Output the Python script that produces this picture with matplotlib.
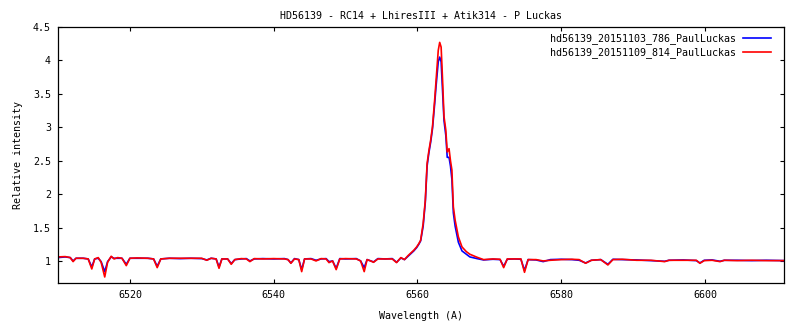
import matplotlib
matplotlib.use("Agg")
import matplotlib.pyplot as plt

# ---- data ----
wavelength = [
    6510.0, 6511.0, 6511.7, 6512.1, 6512.5, 6513.5, 6514.2, 6514.7, 6515.1, 6515.6,
    6516.0, 6516.5, 6516.9, 6517.4, 6517.8, 6518.3, 6518.9, 6519.5, 6520.0, 6521.0,
    6522.5, 6523.3, 6523.8, 6524.3, 6525.5, 6527.0, 6528.5, 6530.0, 6530.7, 6531.3,
    6532.0, 6532.4, 6532.8, 6533.6, 6534.1, 6534.6, 6535.5, 6536.2, 6536.7, 6537.3,
    6538.5, 6540.0, 6541.5, 6542.0, 6542.4, 6542.9, 6543.5, 6543.9, 6544.3, 6545.2,
    6545.9, 6546.6, 6547.3, 6547.7, 6548.2, 6548.7, 6549.2, 6550.0, 6551.5, 6552.1,
    6552.6, 6553.0, 6553.5, 6553.9, 6554.5, 6555.5, 6556.5, 6557.1, 6557.7, 6558.2,
    6558.7, 6559.1, 6559.5, 6559.9, 6560.2, 6560.45, 6560.8, 6561.1, 6561.35, 6561.6,
    6561.85, 6562.1, 6562.4, 6562.6, 6562.9, 6563.1, 6563.3, 6563.5, 6563.7, 6563.95,
    6564.15, 6564.4, 6564.6, 6564.8, 6565.0, 6565.25, 6565.7, 6566.2, 6566.8, 6567.3,
    6568.3, 6569.2, 6570.5, 6571.5, 6572.0, 6572.5, 6573.5, 6574.4, 6574.9, 6575.4,
    6576.5, 6577.5, 6578.5, 6580.0, 6581.5, 6582.5, 6583.4, 6584.2, 6585.5, 6586.5,
    6587.2, 6588.5, 6590.5, 6592.5, 6594.4, 6595.0, 6597.0, 6598.8, 6599.3, 6599.9,
    6601.0, 6602.1, 6602.7, 6604.5, 6606.5, 6608.5, 6611.0,
]

intensity_20151103 = [
    1.05, 1.06, 1.05, 1.00, 1.04, 1.04, 1.03, 0.91, 1.03, 1.04,
    0.99, 0.84, 0.99, 1.06, 1.04, 1.04, 1.04, 0.95, 1.04, 1.04,
    1.04, 1.03, 0.92, 1.03, 1.04, 1.035, 1.04, 1.035, 1.015, 1.04,
    1.03, 0.91, 1.03, 1.03, 0.96, 1.02, 1.03, 1.035, 1.00, 1.03,
    1.035, 1.03, 1.035, 1.02, 0.97, 1.035, 1.02, 0.87, 1.03, 1.035,
    1.01, 1.03, 1.035, 0.99, 1.00, 0.89, 1.035, 1.03, 1.035, 1.00,
    0.90, 1.02, 1.00, 0.985, 1.035, 1.03, 1.035, 0.98, 1.045, 1.02,
    1.07, 1.11, 1.15, 1.20, 1.25, 1.30, 1.52, 1.88, 2.42, 2.62,
    2.78, 2.98, 3.35, 3.62, 3.98, 4.05, 3.98, 3.55, 3.10, 2.88,
    2.55, 2.55, 2.42, 2.22, 1.72, 1.52, 1.28, 1.15, 1.10, 1.06,
    1.035, 1.015, 1.025, 1.02, 0.92, 1.025, 1.03, 1.025, 0.86, 1.02,
    1.015, 0.99, 1.02, 1.025, 1.02, 1.01, 0.97, 1.01, 1.02, 0.95,
    1.025, 1.02, 1.015, 1.005, 0.995, 1.01, 1.015, 1.005, 0.97, 1.01,
    1.015, 0.995, 1.01, 1.01, 1.005, 1.01, 1.005,
]

intensity_20151109 = [
    1.06, 1.065, 1.05, 0.99, 1.04, 1.04, 1.03, 0.88, 1.03, 1.05,
    0.98, 0.76, 0.98, 1.07, 1.03, 1.05, 1.04, 0.93, 1.04, 1.045,
    1.04, 1.03, 0.90, 1.03, 1.04, 1.04, 1.04, 1.04, 1.01, 1.04,
    1.03, 0.89, 1.03, 1.03, 0.95, 1.02, 1.035, 1.03, 0.99, 1.035,
    1.03, 1.035, 1.03, 1.02, 0.965, 1.03, 1.02, 0.84, 1.03, 1.03,
    1.00, 1.035, 1.03, 0.975, 1.00, 0.87, 1.03, 1.035, 1.03, 1.00,
    0.84, 1.02, 1.00, 0.98, 1.03, 1.03, 1.03, 0.975, 1.05, 1.02,
    1.08, 1.12, 1.16, 1.21, 1.26, 1.31, 1.56, 1.91, 2.46, 2.65,
    2.81, 3.01, 3.41, 3.71, 4.15, 4.27, 4.20, 3.71, 3.16, 2.96,
    2.63, 2.68, 2.50, 2.36, 1.81, 1.61, 1.36, 1.21, 1.14, 1.10,
    1.055, 1.02, 1.03, 1.025, 0.90, 1.03, 1.03, 1.03, 0.83, 1.02,
    1.02, 1.00, 1.01, 1.02, 1.025, 1.02, 0.965, 1.01, 1.02, 0.94,
    1.02, 1.025, 1.01, 1.01, 0.99, 1.01, 1.01, 1.01, 0.965, 1.005,
    1.01, 0.99, 1.01, 1.005, 1.01, 1.005, 1.005,
]

series_labels = ["hd56139_20151103_786_PaulLuckas", "hd56139_20151109_814_PaulLuckas"]
x_ticks = [6520, 6540, 6560, 6580, 6600]
y_ticks = [1, 1.5, 2, 2.5, 3, 3.5, 4, 4.5]
y_tick_labels = ["1", "1.5", "2", "2.5", "3", "3.5", "4", "4.5"]
title = "HD56139 - RC14 + LhiresIII + Atik314 - P Luckas"

# ---- plotting ----
FONT = "DejaVu Sans Mono"
FS = 7.2
plt.rcParams["font.family"] = [FONT]
plt.rcParams["font.size"] = FS

fig = plt.figure(figsize=(8.0, 3.25), dpi=100)
ax = fig.add_axes([58 / 800, (325 - 283) / 325, (784 - 58) / 800, (283 - 27) / 325])

ax.plot(wavelength, intensity_20151103, color="#0000ff", lw=1.2, label=series_labels[0])
ax.plot(wavelength, intensity_20151109, color="#ff0000", lw=1.2, label=series_labels[1])

ax.set_xlim(6510, 6611)
ax.set_ylim(0.67, 4.5)
ax.set_xticks(x_ticks)
ax.set_xticklabels([str(t) for t in x_ticks])
ax.set_yticks(y_ticks)
ax.set_yticklabels(y_tick_labels)
ax.tick_params(direction="in", top=True, right=True, length=3, width=0.8,
               labelsize=FS, pad=5)
for s in ax.spines.values():
    s.set_linewidth(0.9)

ax.set_title(title, fontsize=FS, pad=6)
ax.set_xlabel("Wavelength (A)", fontsize=FS, labelpad=8)
ax.set_ylabel("Relative intensity", fontsize=FS, labelpad=7)

leg = ax.legend(loc="upper right", frameon=False, markerfirst=False,
                handlelength=2.8, handletextpad=0.7, labelspacing=0.35,
                borderaxespad=0.2, bbox_to_anchor=(0.99, 1.0), fontsize=FS)

fig.savefig("out.png", dpi=100)
